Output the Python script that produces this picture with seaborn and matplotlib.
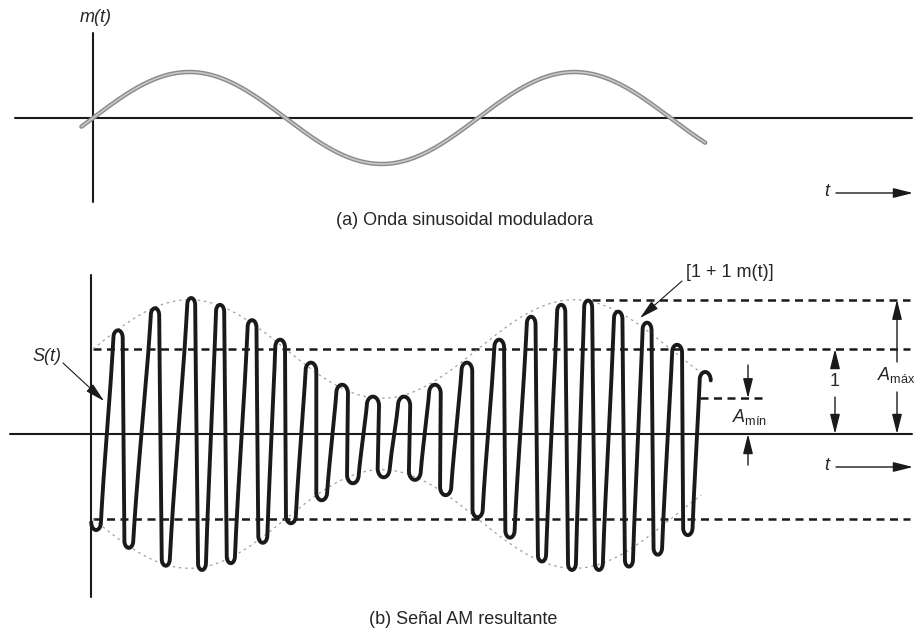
import numpy as np
import pandas as pd
import seaborn as sns
import matplotlib.pyplot as plt


#%% Values (time t in periods of m(t))

msg_span   = [-0.03, 1.59]      # part of m(t) drawn in (a)
env_span   = [0.0, 1.58]        # part of the envelope drawn in (b)
mod_index  = 0.58               # A_max = 1.58, A_min = 0.42

# carrier extremes of S(t): peaks (tops) and troughs (bottoms)
peak_t   = [0.065, 0.161, 0.255, 0.330, 0.413, 0.486, 0.566, 0.647, 0.727, 0.808,
            0.888, 0.971, 1.055, 1.138, 1.216, 1.286, 1.364, 1.439, 1.517, 1.590]
peak_s   = [1.22, 1.48, 1.60, 1.52, 1.34, 1.11, 0.84, 0.58, 0.44, 0.44,
            0.58, 0.84, 1.11, 1.38, 1.52, 1.57, 1.44, 1.31, 1.05, 0.73]
trough_t = [0.008, 0.093, 0.189, 0.283, 0.358, 0.441, 0.514, 0.594, 0.675, 0.755,
            0.836, 0.916, 0.999, 1.083, 1.166, 1.244, 1.314, 1.392, 1.467, 1.545]
trough_s = [-1.13, -1.34, -1.55, -1.60, -1.52, -1.28, -1.05, -0.78, -0.58, -0.51,
            -0.54, -0.72, -0.98, -1.22, -1.50, -1.60, -1.60, -1.56, -1.42, -1.19]

# dashed reference levels in (b): level, t start, t end
level_vals   = [1.0, -1.0, 1 + mod_index, 1 - mod_index]
level_starts = [0.0, 0.0, 1.297, 1.577]
level_ends   = [2.122, 2.122, 2.122, 1.738]

caption_a = "(a) Onda sinusoidal moduladora"
caption_b = "(b) Señal AM resultante"


#%% Figure set-up

sns.set_theme(style="white")
plt.rcParams["font.family"] = ["Liberation Sans", "DejaVu Sans"]
plt.rcParams["mathtext.fontset"] = "custom"
plt.rcParams["mathtext.rm"] = "Liberation Sans"
plt.rcParams["mathtext.it"] = "Liberation Sans:italic"

W, H = 917, 632
FontSize = 13
Axis_LineWidth = 1.5

fig = plt.figure(figsize=(W / 100, H / 100), dpi=100)
fig.patch.set_facecolor("white")

# pixel -> data helpers (t = 0 at x = 93 px, 385 px per message period)
def tx(px):
    return (px - 93) / 385

def ya(py):
    return (118 - py) / 46

def yb(py):
    return (434 - py) / 85

ax_a = fig.add_axes([0, 1 - 210 / H, 1, 210 / H])
ax_b = fig.add_axes([0, 0, 1, (H - 240) / H])
for ax in (ax_a, ax_b):
    ax.set_xlim(tx(0), tx(W))
    ax.set_axis_off()
ax_a.set_ylim(ya(210), ya(0))
ax_b.set_ylim(yb(H), yb(240))


#%% Curves

t_m = np.linspace(msg_span[0], msg_span[1], 800)
df_msg = pd.DataFrame({"t": t_m, "m": np.sin(2 * np.pi * t_m)})

t_e = np.linspace(env_span[0], env_span[1], 800)
env = 1 + mod_index * np.sin(2 * np.pi * t_e)
df_env = pd.concat([pd.DataFrame({"t": t_e, "s": env, "side": "up"}),
                    pd.DataFrame({"t": t_e, "s": -env, "side": "down"})],
                   ignore_index=True)

# carrier: rounded hairpin turn at each extreme (wider where the swing is small),
# joined by almost straight edges
ang = np.linspace(0, np.pi, 31)
u = np.linspace(0, 1, 30)[1:-1]
bend = 0.75 * u + 0.25 * (3 * u ** 2 - 2 * u ** 3)

def turn(tc, sc, sign):
    amp = abs(sc)
    w_px = 4.0 + 2.2 * (1.6 - amp) / 1.2
    h_px = 7.0 + 2.0 * (1.6 - amp) / 1.2
    rx, ry = w_px / 385, h_px / 85
    cx = tc - rx * np.cos(ang)
    cy = sc - sign * ry + sign * ry * np.sin(ang)
    return list(cx), list(cy)

xs, ys = [], []
for k in range(len(peak_t)):
    for tc, sc, sign in [(trough_t[k], trough_s[k], -1), (peak_t[k], peak_s[k], 1)]:
        cx, cy = turn(tc, sc, sign)
        if xs:
            x0, y0 = xs[-1], ys[-1]
            xs += list(x0 + (cx[0] - x0) * bend)
            ys += list(y0 + (cy[0] - y0) * u)
        xs += cx
        ys += cy
df_car = pd.DataFrame({"t": xs, "s": ys})


#%% Draw

arrow_kw = dict(arrowstyle="-|>,head_length=0.8,head_width=0.2", color="k",
                lw=1.0, shrinkA=0, shrinkB=0, mutation_scale=15)

# ---- (a) modulating sine
ax_a.plot([tx(15), tx(912)], [0, 0], color="k", lw=Axis_LineWidth)
ax_a.plot([0, 0], [ya(33), ya(202)], color="k", lw=Axis_LineWidth)

sns.lineplot(data=df_msg, x="t", y="m", ax=ax_a, color="#8a8a8a", lw=3.2,
             sort=False, estimator=None, legend=False)
sns.lineplot(data=df_msg, x="t", y="m", ax=ax_a, color="#c8c8c8", lw=1.2,
             sort=False, estimator=None, legend=False)

ax_a.text(tx(96), ya(17), "m(t)", fontsize=FontSize, style="italic",
          ha="center", va="center")
ax_a.text(tx(827), ya(192), "t", fontsize=FontSize, style="italic",
          ha="center", va="center")
ax_a.annotate("", xy=(tx(913), ya(193)), xytext=(tx(836), ya(193)), arrowprops=arrow_kw)


# ---- (b) AM signal
ax_b.plot([tx(10), tx(912)], [0, 0], color="k", lw=Axis_LineWidth)
ax_b.plot([tx(91), tx(91)], [yb(275), yb(597)], color="k", lw=Axis_LineWidth)

for lv, t0, t1 in zip(level_vals, level_starts, level_ends):
    ax_b.plot([t0, t1], [lv, lv], color="k", lw=1.8, linestyle=(0, (3.2, 2.2)))

sns.lineplot(data=df_env, x="t", y="s", units="side", ax=ax_b, color="#a0a0a0",
             lw=0.9, linestyle=(0, (2, 3)), sort=False, estimator=None, legend=False)
sns.lineplot(data=df_car, x="t", y="s", ax=ax_b, color="k", lw=2.8,
             sort=False, estimator=None, legend=False,
             solid_capstyle="round", solid_joinstyle="round")

# labels with leader arrows
ax_b.text(tx(47), yb(357), "S(t)", fontsize=FontSize, style="italic",
          ha="center", va="center")
ax_b.annotate("", xy=(tx(104), yb(401)), xytext=(tx(63), yb(363)),
              arrowprops=dict(arrow_kw, lw=0.8))

ax_b.text(tx(686), yb(273), "[1 + 1 m(t)]", fontsize=FontSize, ha="left", va="center")
ax_b.annotate("", xy=(tx(640), yb(318)), xytext=(tx(682), yb(281)),
              arrowprops=dict(arrow_kw, lw=0.8))

# A_max
ax_b.annotate("", xy=(tx(897), 1 + mod_index), xytext=(tx(897), yb(362)), arrowprops=arrow_kw)
ax_b.annotate("", xy=(tx(897), 0), xytext=(tx(897), yb(392)), arrowprops=arrow_kw)
ax_b.text(tx(877), yb(375), r"$A_{\mathrm{máx}}$", fontsize=FontSize, ha="left", va="center")

# 1
ax_b.annotate("", xy=(tx(835), 1), xytext=(tx(835), yb(367)), arrowprops=arrow_kw)
ax_b.annotate("", xy=(tx(835), 0), xytext=(tx(835), yb(397)), arrowprops=arrow_kw)
ax_b.text(tx(835), yb(382), "1", fontsize=FontSize, ha="center", va="center")

# A_min
ax_b.annotate("", xy=(tx(748), 1 - mod_index), xytext=(tx(748), yb(365)), arrowprops=arrow_kw)
ax_b.annotate("", xy=(tx(748), 0), xytext=(tx(748), yb(465)), arrowprops=arrow_kw)
ax_b.text(tx(732), yb(417), r"$A_{\mathrm{mín}}$", fontsize=FontSize, ha="left", va="center")

ax_b.text(tx(827), yb(466), "t", fontsize=FontSize, style="italic",
          ha="center", va="center")
ax_b.annotate("", xy=(tx(913), yb(467)), xytext=(tx(836), yb(467)), arrowprops=arrow_kw)


# captions
fig.text(465 / W, 1 - 220 / H, caption_a, fontsize=FontSize, ha="center", va="center")
fig.text(463 / W, 1 - 620 / H, caption_b, fontsize=FontSize, ha="center", va="center")

plt.savefig("out.png", dpi=100, facecolor="white")
